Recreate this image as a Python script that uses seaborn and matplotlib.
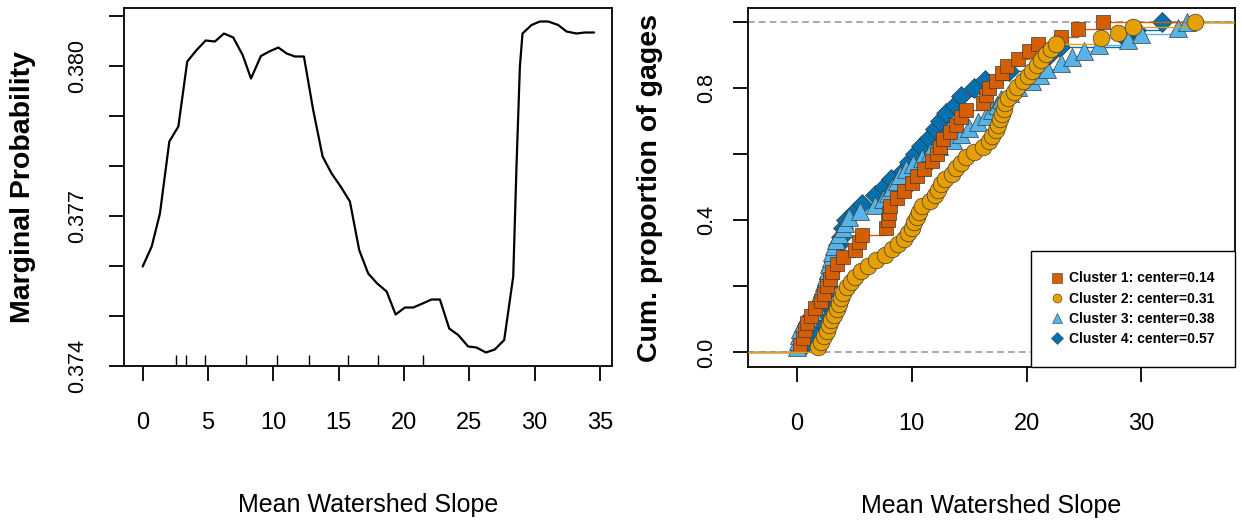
import matplotlib
matplotlib.use('Agg')
import numpy as np
import seaborn as sns
import matplotlib.pyplot as plt
from matplotlib.lines import Line2D

# left panel: marginal probability vs mean watershed slope
slope = [0.0, 0.69, 1.32, 2.04, 2.73, 3.41, 4.13, 4.82, 5.53, 6.22, 6.93, 7.65, 8.29, 9.05,
         9.69, 10.38, 11.02, 11.65, 12.34, 13.05, 13.77, 14.46, 15.15, 15.86, 16.57, 17.26,
         17.95, 18.67, 19.36, 20.07, 20.71, 21.42, 22.11, 22.75, 23.46, 24.15, 24.91, 25.55,
         26.27, 26.95, 27.67, 28.36, 28.61, 28.87, 29.07, 29.76, 30.40, 31.04, 31.80, 32.44,
         33.20, 33.84, 34.55]
marg_prob = [0.37599, 0.37639, 0.37705, 0.37849, 0.37879, 0.38009, 0.38032, 0.38051, 0.38049,
             0.38065, 0.38057, 0.38022, 0.37975, 0.38020, 0.38029, 0.38037, 0.38025, 0.38019,
             0.38019, 0.37912, 0.37819, 0.37785, 0.37759, 0.37729, 0.37632, 0.37585, 0.37565,
             0.37549, 0.37503, 0.37517, 0.37517, 0.37525, 0.37533, 0.37533, 0.37475, 0.37462,
             0.37439, 0.37437, 0.37427, 0.37433, 0.37452, 0.37579, 0.37799, 0.37999, 0.38065,
             0.38082, 0.38089, 0.38089, 0.38082, 0.38069, 0.38065, 0.38067, 0.38067]
rug_slope = [2.55, 3.31, 4.76, 7.90, 10.27, 12.72, 15.71, 18.0, 21.45]

left_yticks = [0.374, 0.375, 0.376, 0.377, 0.378, 0.379, 0.380, 0.381]
left_ylabels = ['0.374', '', '', '0.377', '', '', '0.380', '']
left_xticks = [0, 5, 10, 15, 20, 25, 30, 35]

# right panel: slope of gages in each cluster
cluster1 = [0.3, 0.5, 0.7, 0.9, 1.2, 1.6, 2.1, 2.4, 2.6, 2.85, 3.1, 3.5, 4.0, 5.1, 5.4, 5.7,
            7.8, 7.9, 8.0, 8.1, 8.7, 9.3, 10.0, 10.5, 11.1, 11.8, 12.2, 12.5, 12.7, 13.3, 13.9,
            14.3, 14.7, 16.2, 16.5, 16.7, 17.3, 17.9, 18.3, 19.3, 20.2, 21.0, 23.0, 24.5, 26.7]
cluster2 = [1.8, 2.1, 2.35, 2.6, 2.8, 3.0, 3.25, 3.45, 3.65, 3.85, 4.05, 4.4, 4.75, 5.1, 5.6,
            6.2, 6.9, 7.7, 8.3, 8.8, 9.3, 9.7, 10.0, 10.2, 10.45, 10.65, 10.9, 11.6, 12.0, 12.25,
            12.55, 12.9, 13.5, 13.9, 14.3, 14.7, 15.4, 16.2, 16.7, 17.0, 17.3, 17.5, 17.7, 17.85,
            18.0, 18.15, 18.4, 18.9, 19.2, 19.7, 20.1, 20.5, 20.9, 21.3, 21.7, 22.1, 22.6, 26.5,
            28.0, 29.3, 34.7]
cluster3 = [0.0, 0.1, 0.2, 0.3, 0.5, 1.0, 1.4, 1.7, 1.9, 2.0, 2.2, 2.4, 2.5, 2.7, 2.8, 2.95,
            3.1, 3.2, 3.4, 3.7, 4.0, 4.2, 4.5, 5.5, 6.8, 7.5, 7.9, 8.3, 8.7, 9.0, 9.5, 10.1, 10.9,
            11.6, 12.4, 13.6, 14.3, 15.0, 15.8, 16.5, 17.0, 17.4, 17.8, 18.6, 19.3, 20.5, 21.2,
            21.8, 23.0, 24.0, 25.0, 26.3, 28.8, 30.0, 33.2, 34.0]
cluster4 = [0.8, 1.2, 1.5, 1.8, 2.0, 2.2, 2.4, 2.6, 2.8, 3.0, 3.2, 3.4, 3.6, 3.8, 4.0, 4.3,
            5.0, 5.7, 6.8, 7.6, 8.2, 9.2, 9.8, 10.3, 10.8, 11.5, 12.0, 12.5, 13.0, 13.8, 14.3,
            15.4, 16.4, 18.5, 21.2, 22.0, 22.9, 28.6, 29.5, 31.8]

cluster_labels = ['Cluster 1: center=0.14', 'Cluster 2: center=0.31',
                  'Cluster 3: center=0.38', 'Cluster 4: center=0.57']
cluster_colors = ['#D55E00', '#E69F00', '#56B4E9', '#0072B2']
cluster_markers = ['s', 'o', '^', 'D']
cluster_sizes = [10.5, 12, 13, 10.5]
right_yticks = [0.0, 0.2, 0.4, 0.6, 0.8, 1.0]
right_ylabels = ['0.0', '', '0.4', '', '0.8', '']
right_xticks = [0, 10, 20, 30]

sns.set_style('ticks')
plt.rcParams['font.family'] = ['Liberation Sans', 'DejaVu Sans']
plt.rcParams.update({'text.color': 'black', 'axes.labelcolor': 'black',
                     'xtick.color': 'black', 'ytick.color': 'black'})

fig = plt.figure(figsize=(12.44, 5.26), dpi=100)
ax1 = fig.add_axes([124 / 1244, 160 / 526, 488 / 1244, 358 / 526])
ax2 = fig.add_axes([748 / 1244, 159 / 526, 487 / 1244, 359 / 526])

# ---- left panel
sns.lineplot(x=slope, y=marg_prob, ax=ax1, color='black', lw=1.6)
sns.rugplot(x=rug_slope, ax=ax1, height=0.031, color='black', lw=1.2)
ax1.set_xlim(-1.43, 35.92)
ax1.set_ylim(0.374, 0.38116)
ax1.set_xticks(left_xticks)
ax1.set_yticks(left_yticks)
ax1.set_yticklabels(left_ylabels)
ax1.tick_params(axis='y', pad=15)

# ---- right panel
ax2.axhline(0, color='#9a9a9a', ls=(0, (4, 2.5)), lw=1.2, zorder=1)
ax2.axhline(1, color='#9a9a9a', ls=(0, (4, 2.5)), lw=1.2, zorder=1)
xlo, xhi = -4.26, 38.16
groups = [cluster1, cluster2, cluster3, cluster4]
for z, k in enumerate([3, 2, 0, 1]):
    vals = np.sort(groups[k])
    frac = np.arange(1, len(vals) + 1) / len(vals)
    sns.ecdfplot(x=vals, ax=ax2, color=cluster_colors[k], lw=1, zorder=2 + 2 * z)
    ax2.plot([xlo, vals[0]], [0, 0], color=cluster_colors[k], lw=1, zorder=2 + 2 * z)
    ax2.plot([vals[-1], xhi], [1, 1], color=cluster_colors[k], lw=1, zorder=2 + 2 * z)
    ax2.plot(vals, frac, ls='none', marker=cluster_markers[k], ms=cluster_sizes[k],
             mfc=cluster_colors[k], mec='#3a3a3a', mew=0.5, zorder=3 + 2 * z)
ax2.set_xlim(xlo, xhi)
ax2.set_ylim(-0.044, 1.042)
ax2.set_xticks(right_xticks)
ax2.set_yticks(right_yticks)
ax2.set_yticklabels(right_ylabels)
ax2.tick_params(axis='y', pad=11)

handles = [Line2D([], [], ls='none', marker=cluster_markers[k], ms=6.5,
                  mfc=cluster_colors[k], mec='#3a3a3a', mew=0.4) for k in range(4)]
leg = ax2.legend(handles, cluster_labels, loc='lower right', bbox_to_anchor=(1, 0),
                 borderaxespad=0, frameon=True, fancybox=False, framealpha=1,
                 edgecolor='black', prop={'weight': 'bold', 'size': 10},
                 borderpad=1.5, labelspacing=0.45, handlelength=0.7, handletextpad=0.5)
leg.get_frame().set_linewidth(1.0)
leg.set_zorder(20)

for ax, ylab, ycoord in [(ax1, 'Marginal Probability', -0.207),
                         (ax2, 'Cum. proportion of gages', -0.201)]:
    for sp in ax.spines.values():
        sp.set_linewidth(1.3)
        sp.set_color('black')
    ax.tick_params(axis='both', direction='out', length=11, width=1.3, color='black')
    ax.tick_params(axis='x', labelsize=17, pad=22)
    ax.tick_params(axis='y', labelsize=15.5)
    plt.setp(ax.get_yticklabels(), rotation=90, va='center')
    ax.set_xlabel('Mean Watershed Slope', fontsize=18, va='center')
    ax.xaxis.set_label_coords(0.5, -0.388)
    ax.set_ylabel(ylab, fontsize=20.5, fontweight='bold', va='center')
    ax.yaxis.set_label_coords(ycoord, 0.5)

plt.savefig('out.png', dpi=100)
